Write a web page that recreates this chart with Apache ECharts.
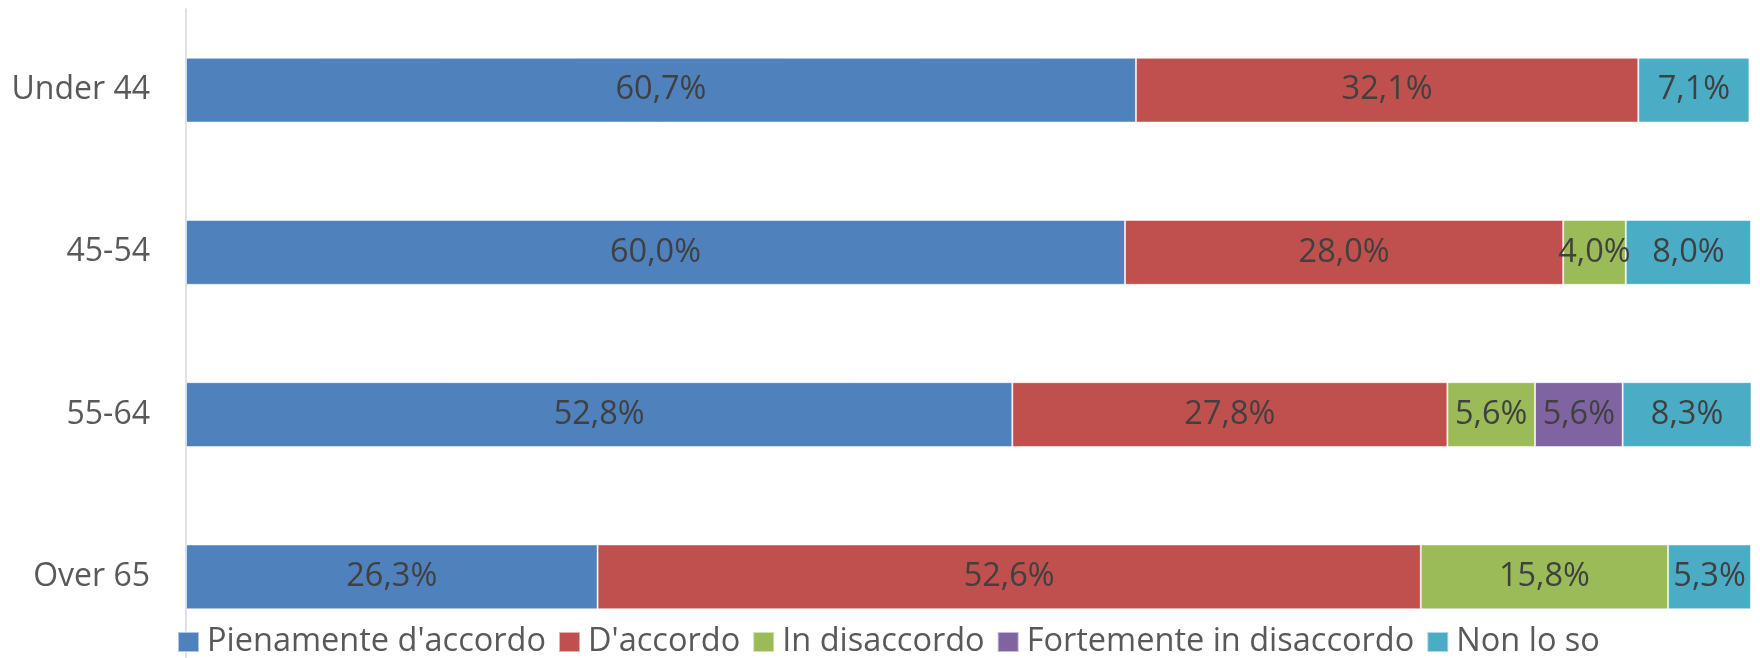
<!DOCTYPE html>
<html>
<head>
<meta charset="utf-8">
<script src="https://cdn.jsdelivr.net/npm/echarts@6/dist/echarts.min.js"></script>
<style>
  html, body { margin: 0; padding: 0; background: #fff; }
  #chart { width: 1760px; height: 658px; }
</style>
</head>
<body>
<div id="chart"></div>
<script>
const categories = ['Under 44', '45-54', '55-64', 'Over 65']
const seriesNames = ['Pienamente d\'accordo', 'D\'accordo', 'In disaccordo', 'Fortemente in disaccordo', 'Non lo so']
const pienamente = [60.7, 60.0, 52.8, 26.3]
const accordo = [32.1, 28.0, 27.8, 52.6]
const disaccordo = [null, 4.0, 5.6, 15.8]
const fortemente = [null, null, 5.6, null]
const nonLoSo = [7.1, 8.0, 8.3, 5.3]
const colors = ['#4F81BD', '#C0504D', '#9BBB59', '#8064A2', '#4BACC6']

const values = [pienamente, accordo, disaccordo, fortemente, nonLoSo]
const font = 'Open Sans'

const chart = echarts.init(document.getElementById('chart'))

const series = values.map((data, i) => ({
  name: seriesNames[i],
  type: 'bar',
  stack: 'total',
  data: data,
  barWidth: '40%',
  itemStyle: { color: colors[i], borderColor: 'rgba(255,255,255,0.55)', borderWidth: 1 },
  label: {
    show: true,
    position: 'inside',
    color: '#404040',
    fontFamily: font,
    fontSize: 32.5,
    formatter: p => (p.value == null ? '' : p.value.toFixed(1).replace('.', ',') + '%')
  }
}))

chart.setOption({
  animation: false,
  color: colors,
  grid: { left: 186, right: 9, top: 9, height: 652, containLabel: false },
  legend: {
    data: seriesNames,
    left: 177,
    top: 625,
    padding: 0,
    itemWidth: 21,
    itemHeight: 20,
    itemGap: 12,
    icon: 'rect',
    textStyle: { color: '#595959', fontFamily: font, fontSize: 32.5, lineHeight: 34, padding: [0, 0, 0, 3] }
  },
  xAxis: {
    type: 'value',
    min: 0,
    max: 100,
    show: false
  },
  yAxis: {
    type: 'category',
    data: categories,
    inverse: true,
    axisTick: { show: false },
    axisLine: { show: true, lineStyle: { color: '#D9D9D9', width: 1.5 } },
    axisLabel: { color: '#595959', fontFamily: font, fontSize: 32, margin: 36, padding: [4, 0, 0, 0] }
  },
  series: series
})
</script>
</body>
</html>
